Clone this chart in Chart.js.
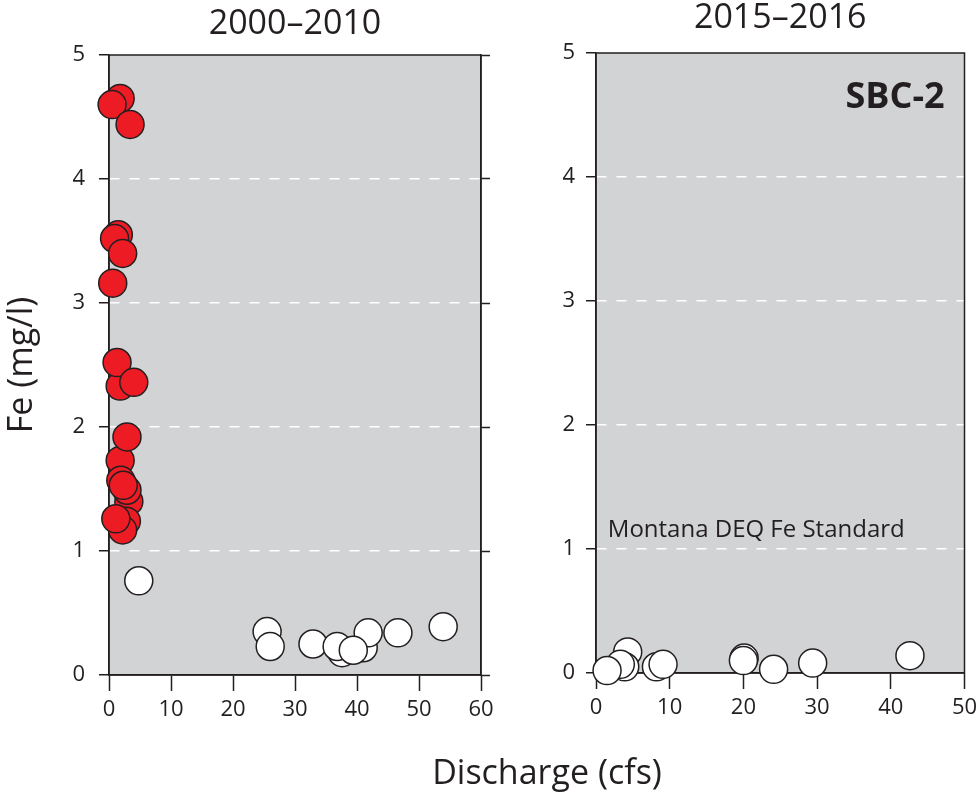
<!DOCTYPE html>
<html>
<head>
<meta charset="utf-8">
<script src="https://cdn.jsdelivr.net/npm/chart.js@4.4.1/dist/chart.umd.min.js"></script>
<style>
  body { margin: 0; background: #fff; }
  #wrap { position: relative; width: 980px; height: 794px; overflow: hidden; }
  #left { position: absolute; left: 0; top: 0; }
  #right { position: absolute; left: 500px; top: 0; }
  #xlabel { position: absolute; left: 347px; top: 751px; width: 400px; text-align: center;
            font-family: 'Open Sans', sans-serif; font-size: 34px; line-height: 40px; color: #231f20; }
</style>
</head>
<body>
<div id="wrap">
  <canvas id="left" width="500" height="794"></canvas>
  <canvas id="right" width="480" height="794"></canvas>
  <div id="xlabel">Discharge (cfs)</div>
</div>
<script>
// ---- data ----
// 2000-2010, Fe above the standard (red)
var flowHigh = [1.8, 0.5, 3.4, 1.5, 0.9, 2.2, 0.6, 1.8, 1.3, 4.0, 1.8, 2.9, 3.2, 2.9, 1.9, 2.3, 2.8, 2.2, 1.1];
var feHigh   = [4.65, 4.60, 4.44, 3.55, 3.52, 3.40, 3.16, 2.33, 2.52, 2.36, 1.73, 1.92, 1.40, 1.49, 1.57, 1.53, 1.24, 1.17, 1.26];
// 2000-2010, Fe below the standard (white)
var flowLow = [4.8, 25.5, 26.0, 32.9, 41.0, 41.8, 37.6, 36.8, 39.4, 46.6, 53.9];
var feLow   = [0.76, 0.35, 0.23, 0.25, 0.22, 0.34, 0.18, 0.23, 0.20, 0.34, 0.39];
// 2015-2016
var flowNew = [4.3, 3.9, 3.3, 1.5, 8.2, 9.1, 20.1, 20.0, 24.1, 29.4, 42.6];
var feNew   = [0.17, 0.05, 0.07, 0.02, 0.05, 0.07, 0.12, 0.10, 0.03, 0.08, 0.14];

var panelTitles = ['2000\u20132010', '2015\u20132016'];
var yTitle = 'Fe (mg/l)';
var stationName = 'SBC-2';
var standardLabel = 'Montana DEQ Fe Standard';

var ink = '#231f20';
var plotGray = '#d1d3d4';
var red = '#ed1c24';

Chart.defaults.font.family = "'Open Sans', sans-serif";
Chart.defaults.color = ink;

function pts(xs, ys) {
    return xs.map(function(x, i) { return {x: x, y: ys[i]}; });
}

function dotSet(xs, ys, fill) {
    return {
        data: pts(xs, ys),
        backgroundColor: fill,
        borderColor: ink,
        borderWidth: 1.5,
        pointRadius: 14,
        pointHoverRadius: 14,
        clip: false
    };
}

// grey plot area, frame and the bits of text
var panelDecor = {
    id: 'panelDecor',
    beforeDraw: function(chart) {
        var a = chart.chartArea, c = chart.ctx;
        c.save();
        c.fillStyle = plotGray;
        c.fillRect(a.left, a.top, a.right - a.left, a.bottom - a.top);
        c.restore();
    },
    beforeDatasetsDraw: function(chart) {
        var a = chart.chartArea, c = chart.ctx;
        c.save();
        c.strokeStyle = ink;
        c.lineWidth = 1.5;
        c.strokeRect(a.left, a.top, a.right - a.left, a.bottom - a.top);
        c.restore();
    },
    afterDraw: function(chart, args, opts) {
        var a = chart.chartArea, c = chart.ctx;
        c.save();
        c.fillStyle = ink;
        c.font = "34px 'Open Sans', sans-serif";
        c.textAlign = 'center';
        c.textBaseline = 'middle';
        c.fillText(opts.title, (a.left + a.right) / 2, a.top - opts.titleGap);
        (opts.notes || []).forEach(function(n) {
            c.font = n.font;
            c.textAlign = n.align;
            c.textBaseline = 'alphabetic';
            c.fillText(n.text, chart.scales.x.getPixelForValue(n.x), chart.scales.y.getPixelForValue(n.y));
        });
        c.restore();
    }
};

function yAxis(width, pad, showTitle) {
    return {
        min: 0, max: 5,
        afterFit: function(s) { s.width = width; s.paddingTop = 0; s.paddingBottom = 0; },
        ticks: { stepSize: 1, padding: pad, font: { size: 22 }, color: ink },
        grid: {
            color: function(ctx) { return (ctx.tick && ctx.tick.value > 0 && ctx.tick.value < 5) ? '#ffffff' : 'rgba(0,0,0,0)'; },
            lineWidth: 1.5,
            tickColor: ink,
            tickWidth: 1.5,
            tickLength: 10,
            tickBorderDash: []
        },
        border: { color: ink, width: 1.5, dash: [10, 10] },
        title: { display: showTitle, text: yTitle, font: { size: 34 }, color: ink, padding: { top: 2, bottom: 0 } }
    };
}

function xAxis(max, height) {
    return {
        type: 'linear',
        min: 0, max: max,
        afterFit: function(s) { s.height = height; s.paddingLeft = 0; s.paddingRight = 0; },
        ticks: { stepSize: 10, padding: 6, font: { size: 22 }, color: ink, maxRotation: 0 },
        grid: { drawOnChartArea: false, color: ink, tickColor: ink, tickWidth: 1.5, tickLength: 16 },
        border: { color: ink, width: 1.5 }
    };
}

new Chart(document.getElementById('left'), {
    type: 'scatter',
    data: { datasets: [dotSet(flowLow, feLow, '#ffffff'), dotSet(flowHigh, feHigh, red)] },
    options: {
        responsive: false,
        animation: false,
        layout: { padding: { top: 55, right: 0, bottom: 0, left: 0 } },
        scales: {
            x: xAxis(60, 119),
            y: yAxis(109, 14, true),
            y2: {
                position: 'right',
                min: 0, max: 5,
                afterFit: function(s) { s.width = 19; s.paddingTop = 0; s.paddingBottom = 0; },
                ticks: { display: false, stepSize: 1 },
                grid: { drawOnChartArea: false, color: ink, tickColor: ink, tickWidth: 1.5, tickLength: 9 },
                border: { color: ink, width: 1.5 }
            }
        },
        plugins: {
            legend: { display: false },
            tooltip: { enabled: false },
            panelDecor: { title: panelTitles[0], titleGap: 31 }
        }
    },
    plugins: [panelDecor]
});

new Chart(document.getElementById('right'), {
    type: 'scatter',
    data: { datasets: [dotSet(flowNew, feNew, '#ffffff')] },
    options: {
        responsive: false,
        animation: false,
        layout: { padding: { top: 53, right: 14, bottom: 0, left: 0 } },
        scales: {
            x: xAxis(50, 121),
            y: yAxis(96, 11, false)
        },
        plugins: {
            legend: { display: false },
            tooltip: { enabled: false },
            panelDecor: {
                title: panelTitles[1], titleGap: 35,
                notes: [
                    { text: stationName, x: 47.3, y: 4.56, align: 'right', font: "bold 36px 'Open Sans', sans-serif" },
                    { text: standardLabel, x: 1.6, y: 1.1, align: 'left', font: "24px 'Open Sans', sans-serif" }
                ]
            }
        }
    },
    plugins: [panelDecor]
});
</script>
</body>
</html>
